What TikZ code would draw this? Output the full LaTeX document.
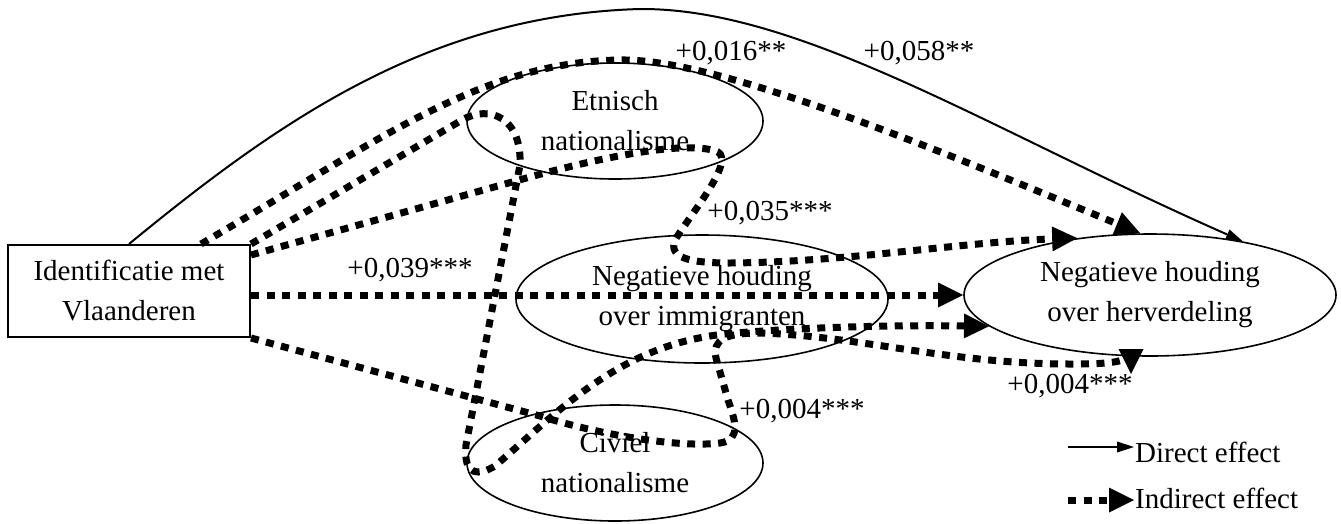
\documentclass[tikz,border=0pt]{standalone}
\usepackage{fontspec}
\setmainfont{Liberation Serif}
\usetikzlibrary{arrows.meta,shapes.geometric,calc}
\begin{document}
\begin{tikzpicture}[x=1pt,y=-1pt,
  txt/.style={font=\fontsize{29}{40}\selectfont, align=center},
  ell/.style={ellipse, draw, line width=1.6pt, inner sep=0pt, txt},
  direct/.style={line width=2pt, -{Triangle[length=17pt,width=11pt,line width=0pt]}},
  indirect/.style={line width=7pt, dash pattern=on 8pt off 7.5pt, -{Triangle[length=25pt,width=25pt,line width=0pt]}},
  lbl/.style={txt, inner sep=0pt}]
\useasboundingbox (0,0) rectangle (1341,523);

% nodes
\node[draw, line width=2pt, minimum width=242pt, minimum height=92pt, inner sep=0pt, txt] (id) at (129,291) {Identificatie met\\Vlaanderen};
\node[ell, minimum width=296pt, minimum height=116pt] (etn) at (615,121) {Etnisch\\nationalisme};
\node[ell, minimum width=372pt, minimum height=128pt] (imm) at (702,299) {Negatieve houding\\over immigranten};
\node[ell, minimum width=296pt, minimum height=116pt] (civ) at (615,463) {Civiel\\nationalisme};
\node[ell, minimum width=372pt, minimum height=122pt] (herv) at (1150,295) {Negatieve houding\\over herverdeling};

% connector end points
\coordinate (a0) at ($(id.north)+(72,0)$);
\coordinate (c0) at ($(id.north east)+(0,11)$);
\coordinate (dtip) at (1131,374);

% direct effect
\draw[direct] (id.north) .. controls (280,120) and (430,15) .. (640,9)
  .. controls (800,8) and (990,130) .. (herv.30);

% indirect: via Etnisch
\draw[indirect] (a0) .. controls (380,140) and (480,62) .. (620,60)
  .. controls (720,58) and (950,155) .. (herv.99);

% indirect: via Etnisch and immigranten
\draw[indirect] (c0) -- (530,177) .. controls (610,155) and (690,140) .. (718,152)
  .. controls (735,162) and (690,215) .. (675,240)
  .. controls (668,258) and (690,263) .. (730,263)
  .. controls (850,262) and (960,242) .. (herv.142);

% indirect: via immigranten
\draw[indirect] (id.east |- herv.west) -- (herv.west);

% indirect: loop via Etnisch and Civiel
\draw[indirect] (id.north east) -- (462,120) .. controls (490,104) and (522,118) .. (520,165)
  -- (466,445) .. controls (463,478) and (480,475) .. (495,466)
  .. controls (560,410) and (620,345) .. (725,334)
  .. controls (800,327) and (900,325) .. (herv.191);

% indirect: via Civiel and immigranten
\draw[indirect] (id.south east) -- (540,416) .. controls (600,435) and (680,448) .. (720,443)
  .. controls (742,440) and (735,420) .. (728,400) -- (716,358)
  .. controls (712,340) and (725,333) .. (760,333)
  .. controls (860,336) and (950,364) .. (1070,364)
  .. controls (1115,364) and (1131,362) .. (dtip);

% labels
\node[lbl] (l016) at (731,53) {+0,016**};
\node[lbl] (l058) at (919,53) {+0,058**};
\node[lbl] (l035) at (770,213) {+0,035***};
\node[lbl] (l039) at (410,270) {+0,039***};
\node[lbl] (l004a) at (802,411) {+0,004***};
\node[lbl] (l004b) at (1070,386) {+0,004***};

% legend
\coordinate (ld1) at (1068,447);
\coordinate (ld2) at (1134,447);
\draw[direct] (ld1) -- (ld2);
\node[lbl, anchor=west] (tdirect) at (1135,452) {Direct effect};
\coordinate (li1) at (1068,500);
\coordinate (li2) at (1134,500);
\draw[indirect] (li1) -- (li2);
\node[lbl, anchor=west] (tindirect) at (1135,498) {Indirect effect};
\end{tikzpicture}
\end{document}
